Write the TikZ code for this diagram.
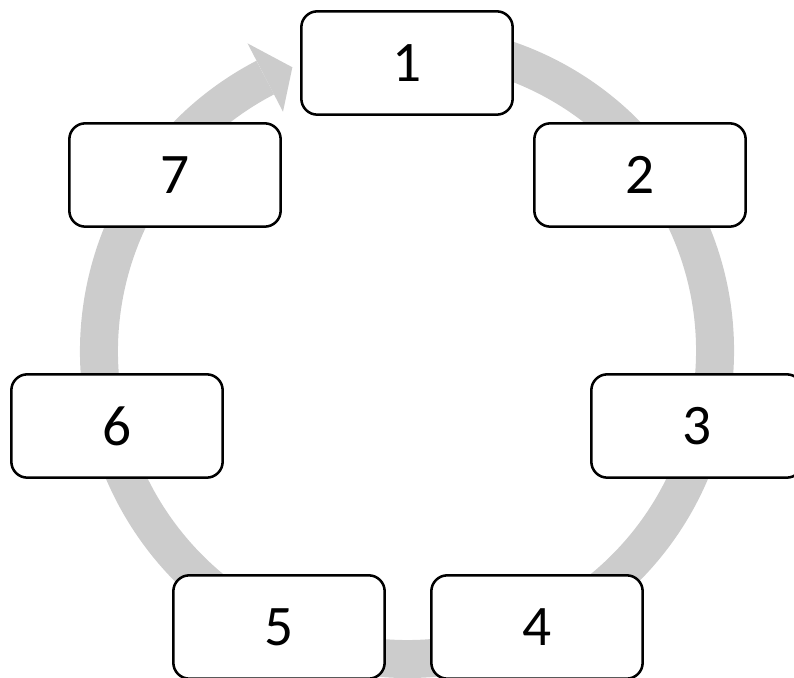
\documentclass[tikz,border=0pt]{standalone}
\usepackage{fontspec}
\setmainfont{Carlito}
\definecolor{ringgray}{HTML}{CCCCCC}
\begin{document}
\begin{tikzpicture}[x=0.75pt,y=0.75pt,
  stepbox/.style={draw=black, fill=white, line width=1.9pt, rounded corners=12pt,
    minimum width=158.5pt, minimum height=77.5pt, inner sep=0pt,
    font=\fontsize{43}{50}\selectfont}]
\useasboundingbox (0,0) rectangle (794,678);
\coordinate (c) at (407,327);
% ring arrow
\draw[ringgray, line width=28.5pt] ([shift={(80:308)}]c) arc[start angle=80, end angle=-242.6, radius=231pt];
\fill[ringgray] ([shift={(117.4:346.5)}]c) -- ([shift={(112:306)}]c) -- ([shift={(117.4:269.5)}]c) -- cycle;
% boxes
\node[stepbox] (n1) at (407,615) {1};
\node[stepbox] (n2) at (640,503) {2};
\node[stepbox] (n3) at (697,252) {3};
\node[stepbox] (n4) at (537,51) {4};
\node[stepbox] (n5) at (279,51) {5};
\node[stepbox] (n6) at (117,252) {6};
\node[stepbox] (n7) at (175,503) {7};
\end{tikzpicture}
\end{document}
